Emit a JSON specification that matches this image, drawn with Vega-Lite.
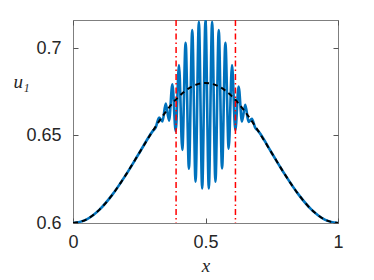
{
  "$schema": "https://vega.github.io/schema/vega-lite/v6.json",
  "autosize": {"type": "none"},
  "padding": {"left": 73, "top": 20, "right": 36, "bottom": 57},
  "width": 265,
  "height": 203,
  "background": "white",
  "config": {
    "view": {"stroke": "#7f7f7f", "strokeWidth": 1},
    "axis": {
      "domain": false, "grid": false, "tickSize": -5, "tickColor": "#555555", "tickWidth": 1,
      "labelFont": "Liberation Sans", "labelFontSize": 18, "labelColor": "#262626",
      "titleFont": "Liberation Serif", "titleFontStyle": "italic", "titleFontWeight": "normal",
      "titleFontSize": 19, "titleColor": "#262626", "labelFlush": false
    }
  },
  "resolve": {"axis": {"x": "independent", "y": "independent"}},
  "datasets": {
    "blue": [
      {"x": 0, "u": 0.6}, {"x": 0.05, "u": 0.60196}, {"x": 0.1, "u": 0.60764}, {"x": 0.15, "u": 0.61649},
      {"x": 0.2, "u": 0.62764}, {"x": 0.25, "u": 0.64}, {"x": 0.3, "u": 0.65236},
      {"x": 0.3125, "u": 0.6548}, {"x": 0.325, "u": 0.6603}, {"x": 0.3375, "u": 0.658}, {"x": 0.35, "u": 0.6682},
      {"x": 0.3625, "u": 0.6585}, {"x": 0.375, "u": 0.6792}, {"x": 0.3875, "u": 0.6525}, {"x": 0.4, "u": 0.6903},
      {"x": 0.4125, "u": 0.6418}, {"x": 0.425, "u": 0.703}, {"x": 0.4375, "u": 0.631}, {"x": 0.45, "u": 0.7103},
      {"x": 0.4625, "u": 0.6236}, {"x": 0.475, "u": 0.715}, {"x": 0.4875, "u": 0.6198}, {"x": 0.5, "u": 0.716},
      {"x": 0.5125, "u": 0.6198}, {"x": 0.525, "u": 0.715}, {"x": 0.5375, "u": 0.6236}, {"x": 0.55, "u": 0.7103},
      {"x": 0.5625, "u": 0.6312}, {"x": 0.575, "u": 0.7029}, {"x": 0.5875, "u": 0.6425}, {"x": 0.6, "u": 0.6903},
      {"x": 0.6125, "u": 0.653}, {"x": 0.625, "u": 0.678}, {"x": 0.6375, "u": 0.658}, {"x": 0.65, "u": 0.6676},
      {"x": 0.6625, "u": 0.6578}, {"x": 0.675, "u": 0.6595}, {"x": 0.6875, "u": 0.6545}, {"x": 0.7, "u": 0.65236},
      {"x": 0.75, "u": 0.64}, {"x": 0.8, "u": 0.62764}, {"x": 0.85, "u": 0.61649}, {"x": 0.9, "u": 0.60764},
      {"x": 0.95, "u": 0.60196}, {"x": 1, "u": 0.6}
    ],
    "black": [
      {"x": 0, "u": 0.6}, {"x": 0.05, "u": 0.60196}, {"x": 0.1, "u": 0.60764}, {"x": 0.15, "u": 0.61649},
      {"x": 0.2, "u": 0.62764}, {"x": 0.25, "u": 0.64}, {"x": 0.3, "u": 0.65236}, {"x": 0.35, "u": 0.66351},
      {"x": 0.4, "u": 0.67236}, {"x": 0.45, "u": 0.67804}, {"x": 0.5, "u": 0.68}, {"x": 0.55, "u": 0.67804},
      {"x": 0.6, "u": 0.67236}, {"x": 0.65, "u": 0.66351}, {"x": 0.7, "u": 0.65236}, {"x": 0.75, "u": 0.64},
      {"x": 0.8, "u": 0.62764}, {"x": 0.85, "u": 0.61649}, {"x": 0.9, "u": 0.60764}, {"x": 0.95, "u": 0.60196},
      {"x": 1, "u": 0.6}
    ],
    "red": [{"x": 0.389}, {"x": 0.613}]
  },
  "layer": [
    {
      "data": {"name": "blue"},
      "mark": {"type": "line", "color": "#0072BD", "strokeWidth": 2.6, "interpolate": "monotone", "clip": true},
      "encoding": {
        "x": {"field": "x", "type": "quantitative",
              "scale": {"domain": [0, 1], "nice": false, "zero": false},
              "axis": {"values": [0, 0.5, 1], "format": "~g", "title": "x", "labelPadding": 15,
                       "titleY": 48, "titleBaseline": "alphabetic"}},
        "y": {"field": "u", "type": "quantitative",
              "scale": {"domain": [0.6, 0.716], "nice": false, "zero": false},
              "axis": {"values": [0.6, 0.65, 0.7], "format": ".2~f", "title": "u₁", "titleAngle": 0,
                       "titleX": -52, "titleY": 67, "titleAlign": "center", "titleBaseline": "alphabetic",
                       "labelPadding": 17}}
      }
    },
    {
      "data": {"name": "black"},
      "mark": {"type": "line", "color": "black", "strokeWidth": 2, "strokeDash": [5, 4], "interpolate": "monotone", "clip": true},
      "encoding": {
        "x": {"field": "x", "type": "quantitative", "axis": null},
        "y": {"field": "u", "type": "quantitative",
              "axis": {"orient": "right", "labels": false, "title": null, "values": [0.6, 0.65, 0.7]}}
      }
    },
    {
      "data": {"name": "red"},
      "mark": {"type": "rule", "color": "#FF0000", "strokeWidth": 1.5, "strokeDash": [6, 3, 1.5, 3]},
      "encoding": {
        "x": {"field": "x", "type": "quantitative",
              "axis": {"orient": "top", "labels": false, "title": null, "values": [0, 0.5, 1]}}
      }
    }
  ]
}
